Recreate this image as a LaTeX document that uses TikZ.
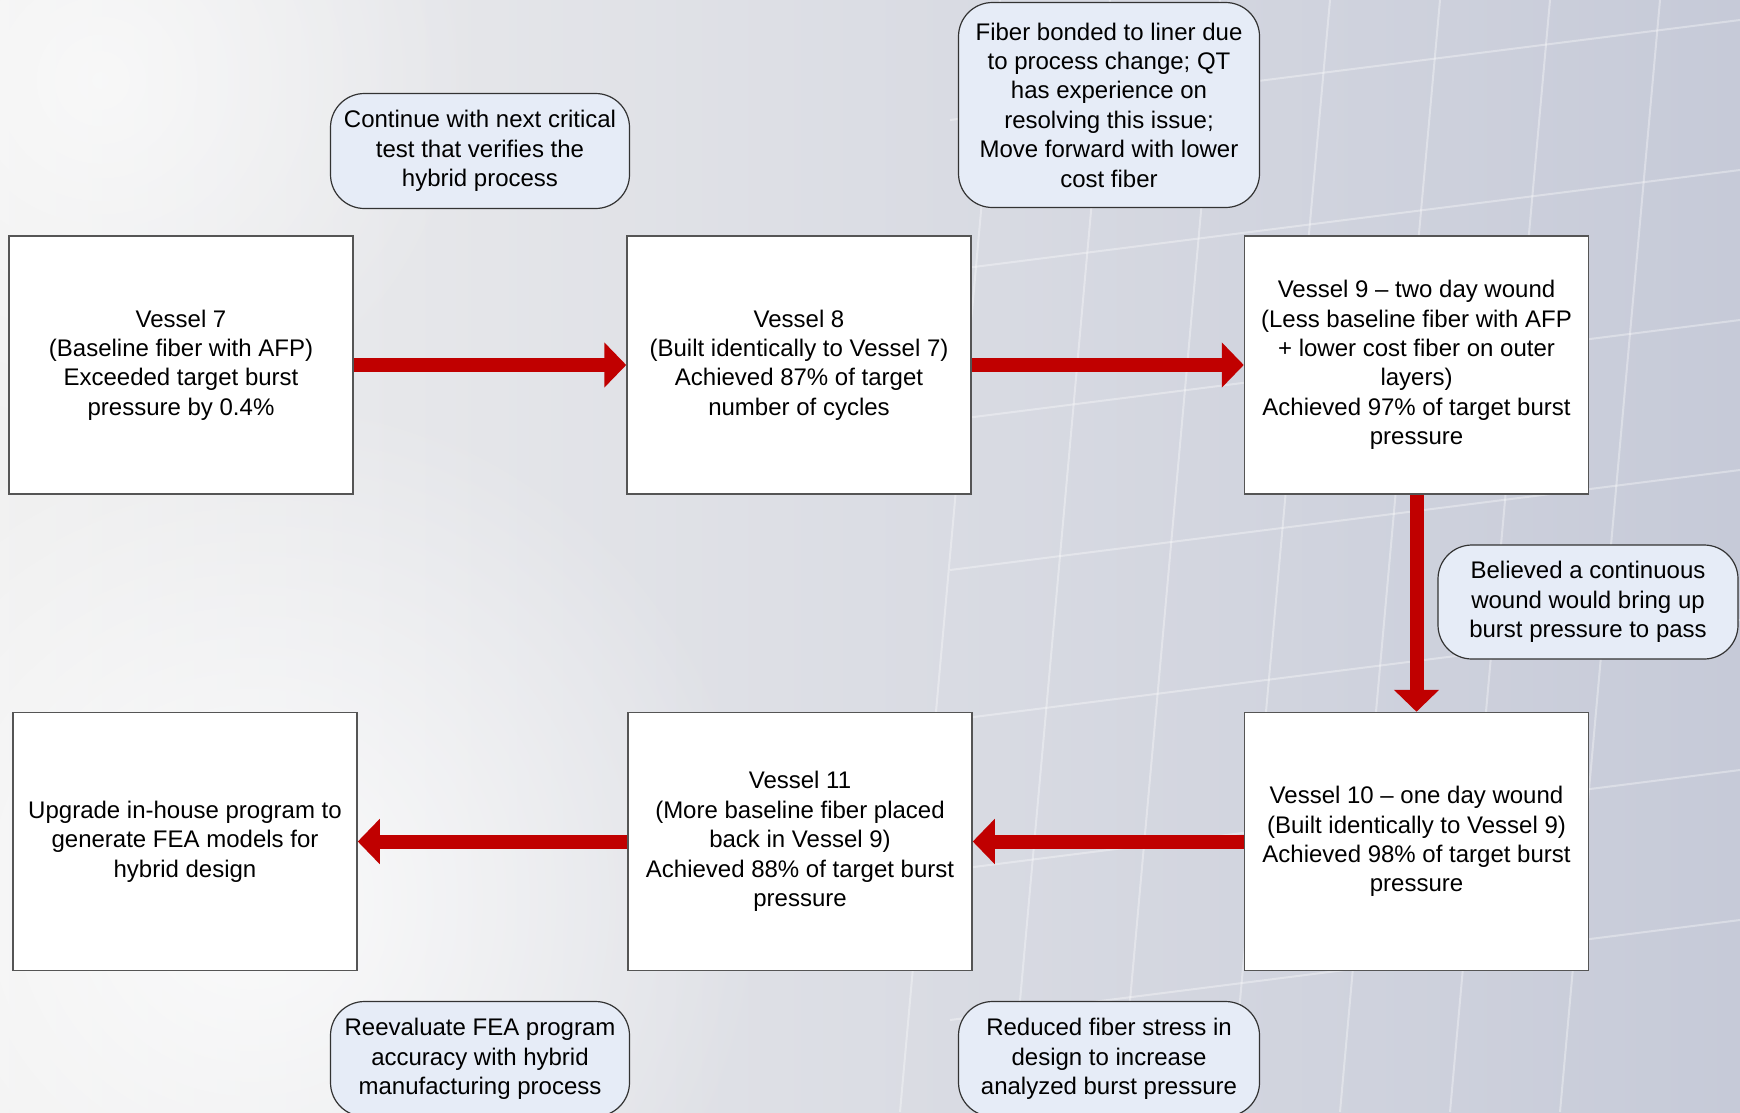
\documentclass[tikz,border=0pt]{standalone}
\usepackage{fontspec}
\setmainfont{Liberation Sans}
\usetikzlibrary{arrows.meta, fadings}
\definecolor{flowred}{RGB}{192,0,0}
\definecolor{notefill}{RGB}{230,236,247}
\definecolor{boxline}{RGB}{85,85,85}
\tikzfading[name=glow, inner color=transparent!0, outer color=transparent!100]
\begin{document}
\begin{tikzpicture}[x=1pt, y=-1pt,
    font=\fontsize{24}{29.4}\selectfont,
    vessel/.style={draw=boxline, line width=1.5pt, fill=white, rectangle,
        minimum width=344pt, minimum height=258pt, align=center, inner sep=4pt},
    note/.style={draw=black!80, line width=1.2pt, fill=notefill, rounded corners=34pt,
        minimum width=299pt, align=center, inner sep=4pt},
    flow/.style={draw=flowred, line width=14pt, -{Triangle[length=22pt, width=44pt]}}]
    \useasboundingbox (0, 0) rectangle (1740, 1112);
    \clip (0, 0) rectangle (1740, 1112);

    % Background
    \shade[left color=gray!12, right color={rgb,255:red,198;green,202;blue,216}] (0, 0) rectangle (1740, 1112);
    \fill[white, opacity=0.8, path fading=glow] (250, 900) circle (520);
    \fill[white, opacity=0.6, path fading=glow] (100, 80) circle (380);
    \foreach \i in {0, 1, ..., 6}
        \draw[white, line width=2pt, opacity=0.35] (1000 + 110*\i, 0) -- (900 + 110*\i, 1112);
    \foreach \j in {0, 1, ..., 6}
        \draw[white, line width=2pt, opacity=0.35] (950, 120 + 150*\j) -- (1740, 20 + 150*\j);

    % Vessels
    \node[vessel] (v7) at (181, 365) {Vessel 7\\(Baseline fiber with AFP)\\Exceeded target burst\\pressure by 0.4\%};
    \node[vessel] (v8) at (799, 365) {Vessel 8\\(Built identically to Vessel 7)\\Achieved 87\% of target\\number of cycles};
    \node[vessel] (v9) at (1416.5, 365) {Vessel 9 -- two day wound\\(Less baseline fiber with AFP\\+ lower cost fiber on outer\\layers)\\Achieved 97\% of target burst\\pressure};
    \node[vessel] (v10) at (1416.5, 841.5) {Vessel 10 -- one day wound\\(Built identically to Vessel 9)\\Achieved 98\% of target burst\\pressure};
    \node[vessel] (v11) at (800, 841.5) {Vessel 11\\(More baseline fiber placed\\back in Vessel 9)\\Achieved 88\% of target burst\\pressure};
    \node[vessel] (upg) at (185, 841.5) {Upgrade in-house program to\\generate FEA models for\\hybrid design};

    % Notes
    \node[note, minimum height=115pt] (n1) at (480, 151) {Continue with next critical\\test that verifies the\\hybrid process};
    \node[note, minimum height=205pt, minimum width=301pt] (n2) at (1109, 105) {Fiber bonded to liner due\\to process change; QT\\has experience on\\resolving this issue;\\Move forward with lower\\cost fiber};
    \node[note, minimum height=114pt, minimum width=300pt] (n3) at (1588, 602) {Believed a continuous\\wound would bring up\\burst pressure to pass};
    \node[note, minimum height=115pt] (n4) at (480, 1059) {Reevaluate FEA program\\accuracy with hybrid\\manufacturing process};
    \node[note, minimum height=115pt, minimum width=301pt] (n5) at (1109, 1059) {Reduced fiber stress in\\design to increase\\analyzed burst pressure};

    % Arrows
    \draw[flow] (v7.east) -- (v8.west);
    \draw[flow] (v8.east) -- (v9.west);
    \draw[flow] (v9.south) -- (v10.north);
    \draw[flow] (v10.west) -- (v11.east);
    \draw[flow] (v11.west) -- (upg.east);
\end{tikzpicture}
\end{document}
